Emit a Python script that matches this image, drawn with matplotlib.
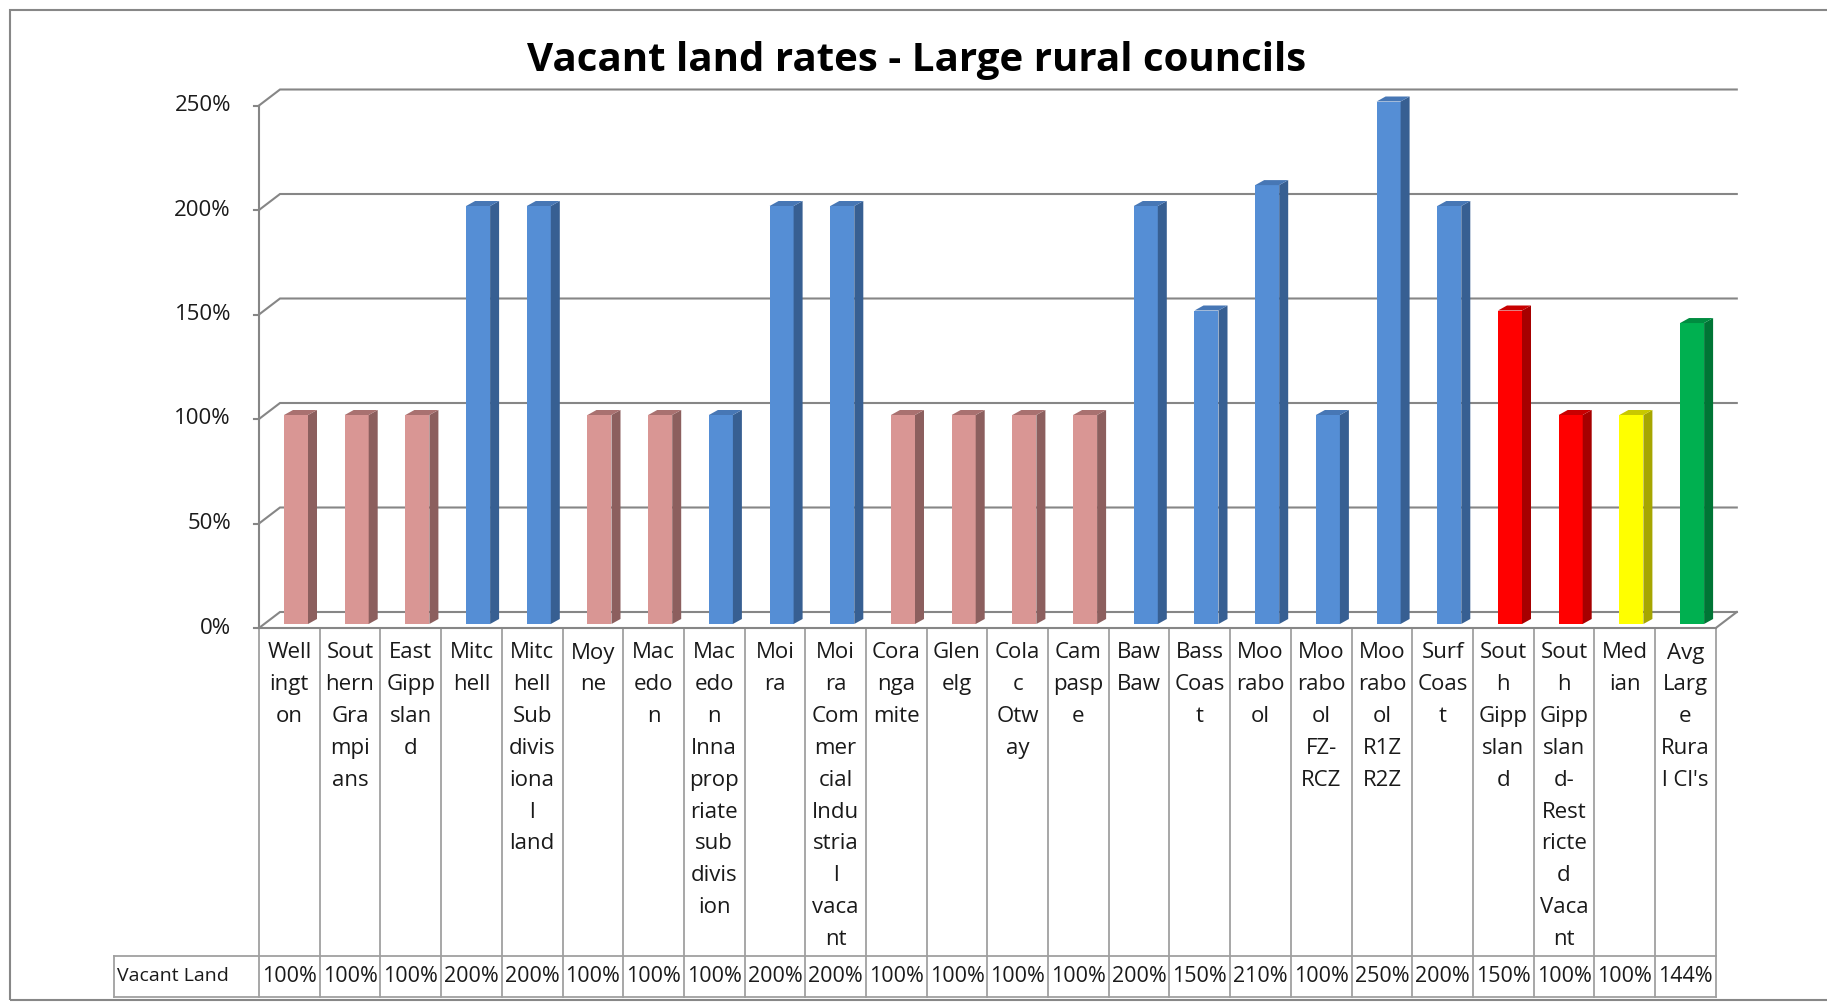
import matplotlib
matplotlib.use("Agg")
import matplotlib.pyplot as plt
from matplotlib.patches import Polygon, Rectangle

plt.rcParams['font.family'] = ['Open Sans', 'DejaVu Sans']

# data (labels wrapped as shown in the chart's data table)
labels = [
    "Well\ningt\non", "Sout\nhern\nGra\nmpi\nans", "East\nGipp\nslan\nd", "Mitc\nhell",
    "Mitc\nhell\nSub\ndivis\niona\nl\nland", "Moy\nne", "Mac\nedo\nn",
    "Mac\nedo\nn\nInna\nprop\nriate\nsub\ndivis\nion", "Moi\nra",
    "Moi\nra\nCom\nmer\ncial\nIndu\nstria\nl\nvaca\nnt", "Cora\nnga\nmite", "Glen\nelg",
    "Cola\nc\nOtw\nay", "Cam\npasp\ne", "Baw\nBaw", "Bass\nCoas\nt", "Moo\nrabo\nol",
    "Moo\nrabo\nol\nFZ-\nRCZ", "Moo\nrabo\nol\nR1Z\nR2Z", "Surf\nCoas\nt",
    "Sout\nh\nGipp\nslan\nd", "Sout\nh\nGipp\nslan\nd-\nRest\nricte\nd\nVaca\nnt",
    "Med\nian", "Avg\nLarg\ne\nRura\nl Cl's",
]
values = [1.00, 1.00, 1.00, 2.00, 2.00, 1.00, 1.00, 1.00, 2.00, 2.00, 1.00, 1.00,
          1.00, 1.00, 2.00, 1.50, 2.10, 1.00, 2.50, 2.00, 1.50, 1.00, 1.00, 1.44]
groups = ['p', 'p', 'p', 'b', 'b', 'p', 'p', 'b', 'b', 'b', 'p', 'p',
          'p', 'p', 'b', 'b', 'b', 'b', 'b', 'b', 'r', 'r', 'y', 'g']
series_name = "Vacant Land"
yticks = [0, 0.5, 1.0, 1.5, 2.0, 2.5]

# (front, side, top) colours
palette = {
    'p': ('#D99694', '#8C5F5E', '#A97170'),
    'b': ('#558ED5', '#375F92', '#4777B5'),
    'r': ('#FF0000', '#A60000', '#C80000'),
    'y': ('#FFFF00', '#A6A600', '#C8C800'),
    'g': ('#00B050', '#007535', '#008C40'),
}

W, H = 1827, 1002
fig = plt.figure(figsize=(W / 100, H / 100), dpi=100)
ax = fig.add_axes([0, 0, 1, 1])
ax.axis('off')

# pixel layout -> data units (x: one unit per category, y: value)
X0, CW = 259, 60.7
Y0, YS = 628, 209
ax.set_xlim(-X0 / CW, (W - X0) / CW)
ax.set_ylim((Y0 - H) / YS, Y0 / YS)

def px(xp):
    return (xp - X0) / CW

def py(yp):
    return (Y0 - yp) / YS

n = len(values)
grid_c = '#868686'
txt_c = '#1a1a1a'
dxw, dyw = 21 / CW, 16 / YS

# walls / gridlines
for t in yticks:
    ax.plot([0, dxw, n + dxw], [t, t + dyw, t + dyw], color=grid_c, lw=1.5,
            solid_joinstyle='miter')
    ax.plot([px(254), 0], [t, t], color=grid_c, lw=1.5)
    ax.text(px(231), t, f"{int(round(t * 100))}%", ha='right', va='center',
            fontsize=16, color=txt_c)
ax.plot([0, 0], [0, yticks[-1]], color=grid_c, lw=1.5)
ax.plot([n, n + dxw], [0, dyw], color=grid_c, lw=1.5)

# 3D-looking columns
bw, boff = 24 / CW, 25 / CW
sdx, sdy = 9 / CW, 5 / YS
base = 4 / YS
for i, (v, g) in enumerate(zip(values, groups)):
    front, side, top = palette[g]
    xl = i + boff
    xr = xl + bw
    ax.bar(xl, v, width=bw, bottom=base, align='edge', color=front, lw=0, zorder=3)
    ax.add_patch(Polygon([(xr, base), (xr + sdx, base + sdy), (xr + sdx, base + v + sdy),
                          (xr, base + v)], closed=True, color=side, lw=0, zorder=3))
    ax.add_patch(Polygon([(xl, base + v), (xl + sdx, base + v + sdy),
                          (xr + sdx, base + v + sdy), (xr, base + v)],
                         closed=True, color=top, lw=0, zorder=3))

# data table
tab_c = '#A0A0A0'
y_bot, y_row = py(997), py(956)
x_lab = px(114)
ax.plot([0, n], [0, 0], color=grid_c, lw=1.5, zorder=4)
for i in range(n + 1):
    ax.plot([i, i], [0, y_bot], color=tab_c, lw=1.3)
ax.plot([x_lab, n], [y_row, y_row], color=tab_c, lw=1.3)
ax.plot([x_lab, n], [y_bot, y_bot], color=tab_c, lw=1.3)
ax.plot([x_lab, x_lab], [y_row, y_bot], color=tab_c, lw=1.3)

line_h = 27.3 * 1.1652 / YS
for i, lab in enumerate(labels):
    for k, part in enumerate(lab.split('\n')):
        ax.text(i + 0.5, py(653) - k * line_h, part, ha='center', va='center',
                fontsize=16, color=txt_c)
    ax.text(i + 0.5, py(976), f"{int(round(values[i] * 100))}%", ha='center',
            va='center', fontsize=15.5, color=txt_c)
ax.text(px(117), py(976), series_name, ha='left', va='center', fontsize=14,
        color=txt_c)

fig.text(917 / W, 1 - 61 / H, "Vacant land rates - Large rural councils",
         ha='center', va='center', fontsize=29, fontweight='bold', color='black')

# chart border
fig.add_artist(Rectangle((10 / W, 2 / H), 1.0, (H - 12) / H, transform=fig.transFigure,
                         fill=False, edgecolor='#878787', lw=1.5))

fig.savefig('out.png', dpi=100)
